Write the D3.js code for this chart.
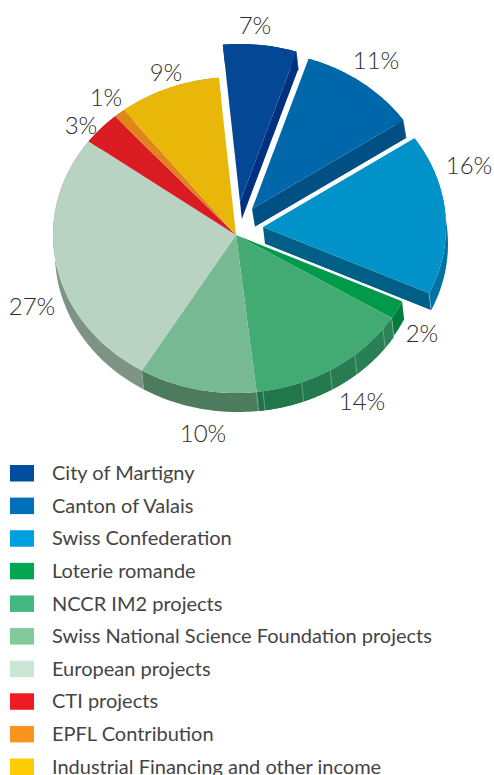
<!DOCTYPE html>
<html>
<head>
<meta charset="utf-8">
<script src="https://cdn.jsdelivr.net/npm/d3@7"></script>
<style>
	body { margin: 0; background: #fff; }
	svg { display: block; }
	text { font-family: Lato, "Open Sans", sans-serif; }
</style>
</head>
<body>
<div id="chart"></div>
<script>
// funding sources, clockwise from the top
const sources = ["City of Martigny", "Canton of Valais", "Swiss Confederation", "Loterie romande", "NCCR IM2 projects",
	"Swiss National Science Foundation projects", "European projects", "CTI projects", "EPFL Contribution",
	"Industrial Financing and other income"];
const shares = [6.5, 10.5, 16.4, 1.9, 14.4, 10.4, 26.5, 3.4, 1.0, 9.0];

// colours
const legendColors = ["#004f9f", "#0070bb", "#009fdf", "#00a651", "#45b87f", "#82ca9c", "#cce6d5", "#ed1c24", "#f7941d", "#ffcb05"];
const topColors = ["#044895", "#0067ab", "#0092c9", "#009a4a", "#41ab73", "#77b992", "#b9d3c2", "#da1c22", "#e0851b", "#e8b70a"];
const rimColors = ["#00307f", "#004f85", "#0073a3", "#007d3c", "#267b52", "#4c7b5e", "#7d9484", "#a01518", "#a8640f", "#b08a05"];
const edgeColors = ["#00307f", "#004f85", "#005f87", null, null, null, null, null, null, null];

// layout of the pie
const center = { x: 236, y: 235 }, rx = 183, ry = 158;
const explodeX = [4, 16, 27, 0, 0, 0, 0, 0, 0, 0];
const explodeY = [-33, -26, -8, 0, 0, 0, 0, 0, 0, 0];
const depthX = [2, 3, 2, 2, 2, 2, 2, 2, 2, 2];
const depthY = [18, 18, 17, 18, 19, 19, 19, 18, 18, 18];
// seams on the rim, degrees clockwise from the top
const rimSeams = [126.5, 139.5, 149, 159, 171.5];
// label centres
const labelX = [255, 376, 469, 422, 362, 203, 32, 81, 106, 166];
const labelY = [25, 60, 165, 333, 401, 433, 306, 125, 97, 72];

const width = 494, height = 775;
const svg = d3.select("#chart").append("svg").attr("width", width).attr("height", height);

const rad = d => d * Math.PI / 180;
const pie = d3.pie().sort(null).startAngle(rad(-5.4)).endAngle(rad(354.6))(shares);
const slices = pie.map((d, i) => ({
	i, a0: d.startAngle, a1: d.endAngle,
	cx: center.x + explodeX[i], cy: center.y + explodeY[i],
	sx: depthX[i], sy: depthY[i]
}));

const line = d3.line();
const onRim = (s, a) => [s.cx + rx * Math.sin(a), s.cy - ry * Math.cos(a)];
const arcPoints = (s, a0, a1) => d3.range(0, 41).map(k => onRim(s, a0 + (a1 - a0) * k / 40));

function facePath(s) {
	return line([[s.cx, s.cy], ...arcPoints(s, s.a0, s.a1)]) + "Z";
}
function rimPath(s, a0, a1) {
	const pts = arcPoints(s, a0, a1);
	const low = pts.map(p => [p[0] + s.sx, p[1] + s.sy]).reverse();
	return line([...pts, ...low]) + "Z";
}
function edgePath(s) {
	const c = onRim(s, s.a1);
	return line([[s.cx, s.cy], c, [c[0] + s.sx, c[1] + s.sy], [s.cx + s.sx, s.cy + s.sy]]) + "Z";
}
function seam(g, s, a) {
	const t = onRim(s, a);
	g.append("line").attr("x1", t[0]).attr("y1", t[1]).attr("x2", t[0] + s.sx).attr("y2", t[1] + s.sy)
		.attr("stroke", "#fff").attr("stroke-opacity", 0.45).attr("stroke-width", 0.7);
}

function drawSlice(g, s) {
	g.append("path").attr("d", rimPath(s, s.a0, s.a1)).attr("fill", rimColors[s.i]);
	g.append("path").attr("d", edgePath(s)).attr("fill", edgeColors[s.i]);
	seam(g, s, s.a1);
	// white gap under the side wall
	const c = onRim(s, s.a1);
	g.append("line")
		.attr("x1", s.cx + s.sx).attr("y1", s.cy + s.sy + 0.7)
		.attr("x2", c[0] + s.sx).attr("y2", c[1] + s.sy + 0.7)
		.attr("stroke", "#fff").attr("stroke-width", 1.5);
	g.append("path").attr("d", facePath(s)).attr("fill", topColors[s.i]);
}

// the pie body first, then the pulled out slices over it
const body = svg.append("g");
const whole = slices.slice(3);
whole.forEach(s => body.append("path").attr("d", rimPath(s, s.a0, s.a1)).attr("fill", rimColors[s.i]));
// NCCR rim gets darker towards the front
const nccr = slices[4];
const facetEnds = [nccr.a0, ...rimSeams.map(rad), nccr.a1];
d3.pairs(facetEnds).forEach((p, k) => {
	body.append("path").attr("d", rimPath(nccr, p[0], p[1]))
		.attr("fill", d3.interpolateRgb("#2c8259", "#1f7348")(k / 5));
});
rimSeams.forEach(a => seam(body, nccr, rad(a)));
seam(body, nccr, nccr.a0);
seam(body, nccr, nccr.a1);
whole.forEach(s => body.append("path").attr("d", facePath(s)).attr("fill", topColors[s.i]));

const pulled = svg.append("g");
slices.slice(0, 3).forEach(s => drawSlice(pulled, s));

// percent labels
svg.append("g").selectAll("text")
	.data(shares)
	.join("text")
	.attr("x", (d, i) => labelX[i])
	.attr("y", (d, i) => labelY[i])
	.attr("dy", "0.36em")
	.attr("text-anchor", "middle")
	.attr("font-size", 24)
	.attr("font-weight", 300)
	.attr("fill", "#2d2d2d")
	.text(d => Math.round(d) + "%");

// legend
const legendY = d3.scalePoint().domain(sources).range([473, 766.5]);
const legend = svg.append("g").selectAll("g")
	.data(sources)
	.join("g")
	.attr("transform", d => `translate(0,${legendY(d)})`);
legend.append("rect")
	.attr("x", 10).attr("y", -8).attr("width", 24).attr("height", 16.5)
	.attr("fill", (d, i) => legendColors[i]);
legend.append("text")
	.attr("x", 52).attr("dy", "0.36em")
	.attr("font-size", 20)
	.attr("fill", "#444")
	.text(d => d);
</script>
</body>
</html>
